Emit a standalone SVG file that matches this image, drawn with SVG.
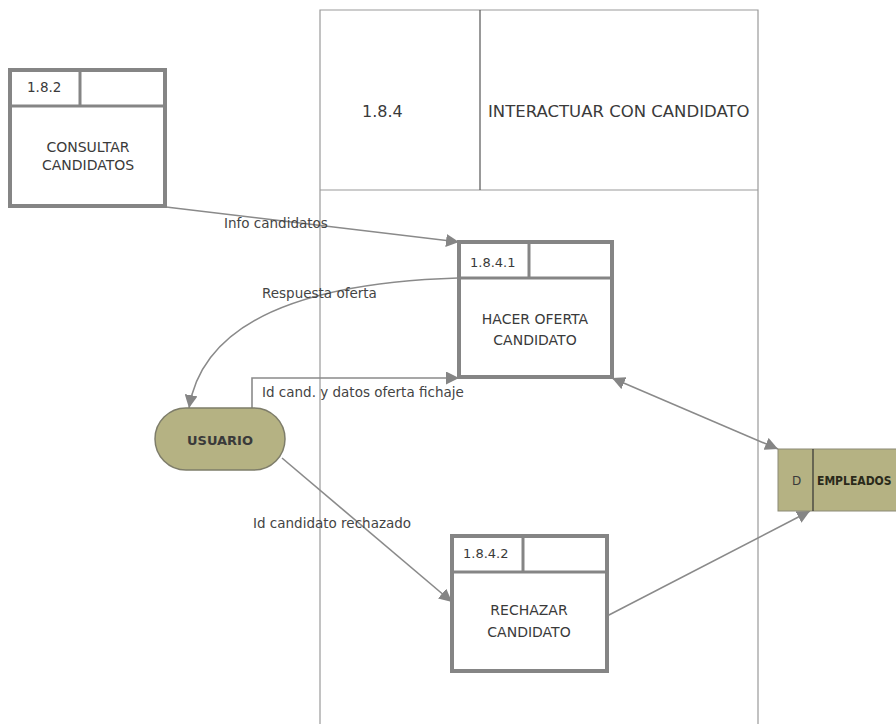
<svg xmlns="http://www.w3.org/2000/svg" width="896" height="724" viewBox="0 0 896 724">
  <style>
    .frame { fill: none; stroke: #9a9a9a; stroke-width: 1.2; }
    .proc { fill: #ffffff; stroke: #858585; stroke-width: 4; }
    .sep { stroke: #858585; stroke-width: 3; }
    .flow { fill: none; stroke: #8a8a8a; stroke-width: 1.6; }
    .t { font-family: "DejaVu Sans", Verdana, sans-serif; fill: #3a3a3a; }
    .lbl { font-family: "DejaVu Sans", Verdana, sans-serif; fill: #444444; font-size: 13.5px; }
  </style>
  <defs>
    <marker id="arrL" viewBox="0 0 10 10" refX="10" refY="5" markerWidth="13" markerHeight="13" markerUnits="userSpaceOnUse" orient="auto-start-reverse">
      <path d="M0,0 L10,5 L0,10 z" fill="#858585"/>
    </marker>
  </defs>
  <rect width="896" height="724" fill="#ffffff"/>

  <!-- Parent process frame 1.8.4 -->
  <g id="frame-184">
    <path class="frame" d="M320,724 V10 H758 V724"/>
    <line class="frame" x1="320" y1="190" x2="758" y2="190"/>
    <line x1="480" y1="10" x2="480" y2="190" stroke="#555" stroke-width="1.2"/>
    <text class="t" x="362" y="117" font-size="16">1.8.4</text>
    <text class="t" x="488" y="117" font-size="16.5">INTERACTUAR CON CANDIDATO</text>
  </g>

  <!-- Connectors -->
  <g id="connectors">
    <path class="flow" d="M166,207 L459,242" marker-end="url(#arrL)"/>
    <path class="flow" d="M458,278 C330,282 205,310 189,408" marker-end="url(#arrL)"/>
    <path class="flow" d="M252,408 V378 H459" marker-end="url(#arrL)"/>
    <path class="flow" d="M612,378 L778,449" marker-start="url(#arrL)" marker-end="url(#arrL)"/>
    <path class="flow" d="M282,458 L452,602" marker-end="url(#arrL)"/>
    <path class="flow" d="M607,616 L810,511" marker-end="url(#arrL)"/>
    <text class="lbl" x="224" y="228">Info candidatos</text>
    <text class="lbl" x="262" y="298">Respuesta oferta</text>
    <text class="lbl" x="262" y="397">Id cand. y datos oferta fichaje</text>
    <text class="lbl" x="253" y="528">Id candidato rechazado</text>
  </g>

  <!-- Process 1.8.2 -->
  <g id="node-182">
    <rect class="proc" x="10" y="70" width="155" height="136"/>
    <line class="sep" x1="10" y1="106" x2="165" y2="106"/>
    <line class="sep" x1="80" y1="70" x2="80" y2="106"/>
    <text class="t" x="27" y="92" font-size="13.5">1.8.2</text>
    <text class="t" x="88" y="152" font-size="14" text-anchor="middle">CONSULTAR</text>
    <text class="t" x="88" y="170" font-size="14" text-anchor="middle">CANDIDATOS</text>
  </g>

  <!-- Process 1.8.4.1 -->
  <g id="node-1841">
    <rect class="proc" x="459" y="242" width="153" height="135"/>
    <line class="sep" x1="459" y1="278" x2="612" y2="278"/>
    <line class="sep" x1="529" y1="242" x2="529" y2="278"/>
    <text class="t" x="470" y="267" font-size="13">1.8.4.1</text>
    <text class="t" x="535" y="324" font-size="14" text-anchor="middle">HACER OFERTA</text>
    <text class="t" x="535" y="345" font-size="14" text-anchor="middle">CANDIDATO</text>
  </g>

  <!-- Process 1.8.4.2 -->
  <g id="node-1842">
    <rect class="proc" x="452" y="536" width="155" height="135"/>
    <line class="sep" x1="452" y1="572" x2="607" y2="572"/>
    <line class="sep" x1="523" y1="536" x2="523" y2="572"/>
    <text class="t" x="463" y="558" font-size="13">1.8.4.2</text>
    <text class="t" x="529" y="615" font-size="14" text-anchor="middle">RECHAZAR</text>
    <text class="t" x="529" y="637" font-size="14" text-anchor="middle">CANDIDATO</text>
  </g>

  <!-- External entity USUARIO -->
  <g id="node-usuario">
    <rect x="155" y="408" width="130" height="62" rx="31" ry="31" fill="#b5b283" stroke="#7e7d6a" stroke-width="1.5"/>
    <text class="t" x="220" y="445" font-size="13" font-weight="bold" text-anchor="middle" fill="#3a3a20">USUARIO</text>
  </g>

  <!-- Data store EMPLEADOS -->
  <g id="node-empleados">
    <rect x="778" y="449" width="130" height="62" fill="#b5b283" stroke="#8b8a76" stroke-width="1"/>
    <line x1="813" y1="449" x2="813" y2="511" stroke="#333" stroke-width="1.2"/>
    <text class="t" x="792" y="485" font-size="12" fill="#8e8b5a">D</text>
    <text x="817" y="485" font-family="'DejaVu Sans Condensed', 'DejaVu Sans', sans-serif" font-size="12" font-weight="bold" fill="#2a2a1a">EMPLEADOS</text>
  </g>
</svg>
